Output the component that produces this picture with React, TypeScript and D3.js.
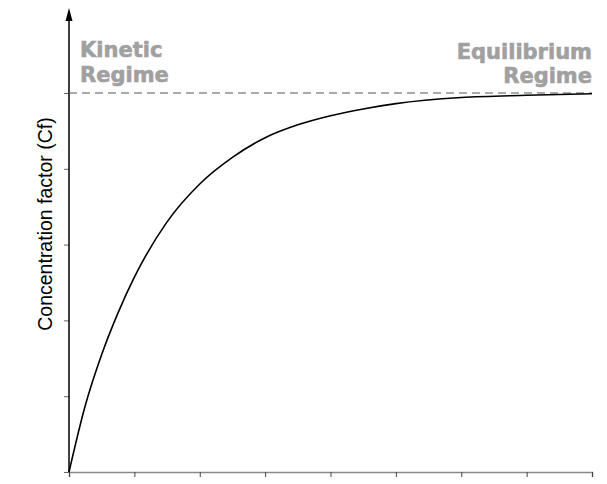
import { useEffect, useRef } from "react";
import * as d3 from "d3";

// time steps (x axis has 8 equal intervals, no readable labels)
const timeSteps = [0, 0.25, 0.5, 0.75, 1, 1.5, 2, 2.5, 3, 3.5, 4, 4.5, 5, 6, 7, 8];
const cfValues = [0, 0.88, 1.55, 2.1, 2.57, 3.3, 3.8, 4.15, 4.41, 4.58, 4.7, 4.79, 4.86, 4.94, 4.97, 4.99];
const equilibriumCf = 5;
const xTicks = [0, 1, 2, 3, 4, 5, 6, 7, 8];
const yTicks = [0, 1, 2, 3, 4, 5];
const yLabel = "Concentration factor (Cf)";

export default function App() {
  const width = 607;
  const height = 484;
  const margin = { top: 93, right: 15, bottom: 12, left: 69 };
  const svgRef = useRef<SVGSVGElement>(null);

  useEffect(() => {
    const svg = d3.select(svgRef.current);
    svg.selectAll("*").remove();

    const x = d3.scaleLinear().domain([0, 8]).range([margin.left, width - margin.right]);
    const y = d3.scaleLinear().domain([0, 5]).range([height - margin.bottom, margin.top]);

    // x axis (grey, ticks only)
    const xAxis = svg
      .append("g")
      .attr("transform", `translate(0, ${y(0)})`)
      .call(d3.axisBottom(x).tickValues(xTicks).tickSize(5).tickFormat(() => ""));
    xAxis.select(".domain").attr("stroke", "#8a8a8a").attr("stroke-width", 1.5);
    xAxis.selectAll(".tick line").attr("stroke", "#444");

    // y axis with arrow
    const yAxis = svg
      .append("g")
      .attr("transform", `translate(${margin.left}, 0)`)
      .call(d3.axisLeft(y).tickValues(yTicks).tickSize(5).tickFormat(() => ""));
    yAxis.select(".domain").remove();
    yAxis.selectAll(".tick line").attr("stroke", "#666");

    svg
      .append("line")
      .attr("x1", margin.left)
      .attr("x2", margin.left)
      .attr("y1", y(0))
      .attr("y2", 16)
      .attr("stroke", "#000")
      .attr("stroke-width", 1.5);
    svg
      .append("path")
      .attr("d", `M${margin.left},8 L${margin.left - 3.5},21 L${margin.left + 3.5},21 Z`)
      .attr("fill", "#000");

    // equilibrium dashed line
    svg
      .append("line")
      .attr("x1", x(0))
      .attr("x2", x(8))
      .attr("y1", y(equilibriumCf))
      .attr("y2", y(equilibriumCf))
      .attr("stroke", "#555")
      .attr("stroke-width", 1)
      .attr("stroke-dasharray", "8,5");

    // curve
    const pts = timeSteps.map((t, i) => [t, cfValues[i]] as [number, number]);
    svg
      .append("path")
      .datum(pts)
      .attr("fill", "none")
      .attr("stroke", "#000")
      .attr("stroke-width", 1.6)
      .attr("d", d3.line<[number, number]>().x((d) => x(d[0])).y((d) => y(d[1])).curve(d3.curveMonotoneX));

    // regime labels
    const lbl = (txt: string, px: number, py: number, anchor: string) =>
      svg
        .append("text")
        .attr("x", px)
        .attr("y", py)
        .attr("text-anchor", anchor)
        .attr("fill", "#a0a0a0")
        .attr("stroke", "#a0a0a0")
        .attr("stroke-width", 0.6)
        .style("font-family", "DejaVu Sans, Verdana, sans-serif")
        .style("font-weight", "bold")
        .style("font-size", "21px")
        .text(txt);
    lbl("Kinetic", 80, 57, "start");
    lbl("Regime", 80, 82, "start");
    lbl("Equilibrium", 592, 59, "end");
    lbl("Regime", 592, 83, "end");

    // y label
    svg
      .append("text")
      .attr("transform", `translate(45, 224) rotate(-90)`)
      .attr("text-anchor", "middle")
      .attr("dominant-baseline", "central")
      .style("font-family", "Liberation Sans, Arial, sans-serif")
      .style("font-size", "19.5px")
      .attr("fill", "#000")
      .text(yLabel);
  }, [margin.bottom, margin.top, margin.right, margin.left]);

  return (
    <div style={{ position: "absolute", left: 0, top: 0 }}>
      <svg ref={svgRef} width={width} height={height} style={{ display: "block", background: "#fff" }} />
    </div>
  );
}
